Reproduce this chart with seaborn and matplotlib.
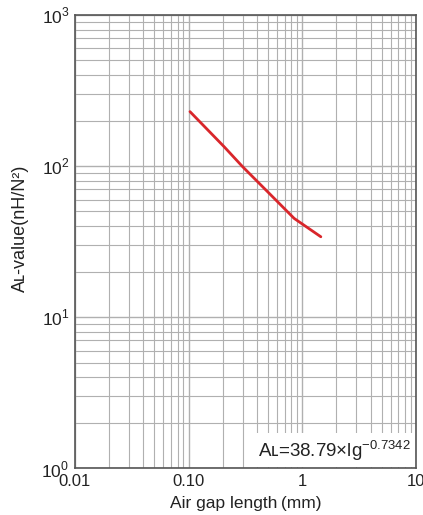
import numpy as np
import matplotlib.pyplot as plt
import matplotlib.ticker as mticker
import seaborn as sns
import pandas as pd

sns.set_style("white")
plt.rcParams['font.family'] = ['Liberation Sans', 'DejaVu Sans']
plt.rcParams['mathtext.fontset'] = 'custom'
plt.rcParams['mathtext.rm'] = 'Liberation Sans'

# values
gap_mm = [0.103, 0.206, 0.299, 0.512, 0.85, 1.46]
al_value = [229, 134, 99, 66, 45, 34]

x_ticks = [0.01, 0.1, 1, 10]
x_labels = ['0.01', '0.10', '1', '10']
y_ticks = [1, 10, 100, 1000]
y_labels = ['10$^{\\mathregular{0}}$', '10$^{\\mathregular{1}}$',
            '10$^{\\mathregular{2}}$', '10$^{\\mathregular{3}}$']

df = pd.DataFrame({'gap': gap_mm, 'al': al_value})

fig = plt.figure(figsize=(4.23, 5.15), dpi=100)
ax = fig.add_axes([0.177, 0.091, 0.806, 0.880])

ax.set_xscale('log')
ax.set_yscale('log')
ax.set_xlim(0.01, 10)
ax.set_ylim(1, 1000)

ax.xaxis.set_minor_locator(mticker.LogLocator(base=10, subs=np.arange(2, 10)))
ax.yaxis.set_minor_locator(mticker.LogLocator(base=10, subs=np.arange(2, 10)))
ax.grid(which='major', color='#b0b0b0', lw=1.0)
ax.grid(which='minor', color='#b0b0b0', lw=0.8)
ax.set_axisbelow(True)

sns.lineplot(data=df, x='gap', y='al', color='#d9262b', lw=2, ax=ax)

ax.set_xticks(x_ticks)
ax.set_xticklabels(x_labels)
ax.set_yticks(y_ticks)
ax.set_yticklabels(y_labels)
ax.xaxis.set_minor_formatter(mticker.NullFormatter())
ax.yaxis.set_minor_formatter(mticker.NullFormatter())
ax.tick_params(which='both', length=0, colors='#222222')
ax.tick_params(axis='x', labelsize=12, pad=4)
ax.tick_params(axis='y', labelsize=12.5, pad=4)

for s in ax.spines.values():
    s.set_color('#555555')
    s.set_linewidth(1.2)

ax.set_xlabel('Air gap length\u2009(mm)', fontsize=12.5, labelpad=5, color='#222222')
ax.set_ylabel('A\u029f-value(nH/N\u00b2)', fontsize=13, color='#222222')
ax.yaxis.set_label_coords(-0.135, 0.53)

ax.text(0.985, 0.012, 'A\u029f=38.79×lg$^{\\mathregular{-0.7342}}$',
        transform=ax.transAxes, ha='right', va='bottom', fontsize=13.5,
        color='#222222',
        bbox=dict(boxstyle='square,pad=0.25', fc='white', ec='none'))

fig.savefig('out.png', dpi=100)
